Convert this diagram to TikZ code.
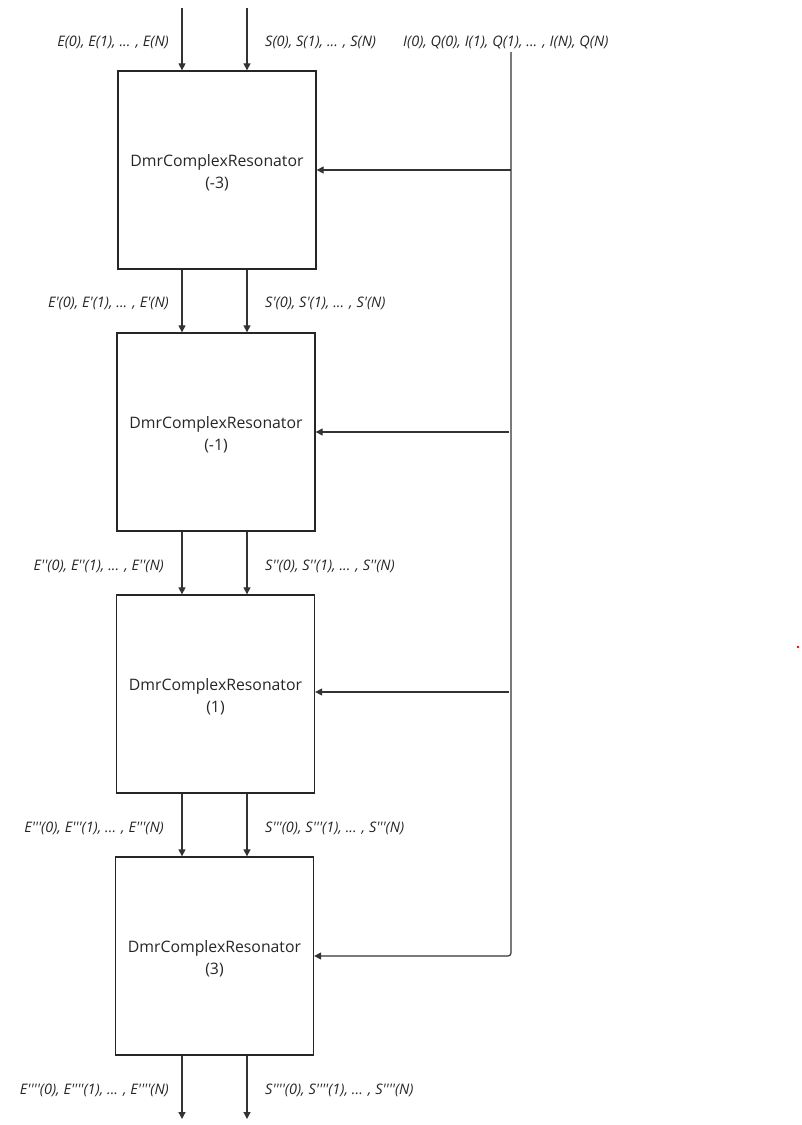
\documentclass[tikz,border=0pt]{standalone}
\usepackage{fontspec}
\setmainfont{Open Sans}
\newfontfamily\lblfont{Open Sans}
\usetikzlibrary{arrows.meta}
\begin{document}
\begin{tikzpicture}[x=1pt,y=-1pt,
  ln/.style={draw=black!80, line width=1.2pt},
  arr/.style={ln, -{Triangle[length=7pt,width=7pt]}},
  box/.style={draw=black!85, line width=1.3pt, minimum width=198pt, minimum height=198pt, inner sep=0pt, align=center, font=\fontsize{15.8}{22}\selectfont, text=black!85},
  boxtext/.style={box, draw=none, minimum width=0pt, minimum height=0pt},
  lbl/.style={font=\lblfont\fontsize{14.5}{16}\selectfont\itshape, text=black!85, inner sep=0pt}]
\useasboundingbox (0,0) rectangle (801,1125);
\node[box] (b1) at (217,170) {};
\node[box] (b2) at (216,432) {};
\node[box] (b3) at (215.5,694) {};
\node[box] (b4) at (214.5,956) {};
\node[boxtext] (t1) at ([yshift=-3pt]b1.center) {DmrComplexResonator\\(-3)};
\node[boxtext] (t2) at ([yshift=-3pt]b2.center) {DmrComplexResonator\\(-1)};
\node[boxtext] (t3) at ([yshift=-3pt]b3.center) {DmrComplexResonator\\(1)};
\node[boxtext] (t4) at ([yshift=-3pt]b4.center) {DmrComplexResonator\\(3)};
\coordinate (xL) at (182,0);
\coordinate (xR) at (247,0);
\coordinate (tL) at (182,8);
\coordinate (tR) at (247,8);
\coordinate (eL) at (182,1119);
\coordinate (eR) at (247,1119);
% top inputs
\draw[arr] (tL) -- (b1.north -| xL);
\draw[arr] (tR) -- (b1.north -| xR);
% between boxes
\draw[arr] (b1.south -| xL) -- (b2.north -| xL);
\draw[arr] (b1.south -| xR) -- (b2.north -| xR);
\draw[arr] (b2.south -| xL) -- (b3.north -| xL);
\draw[arr] (b2.south -| xR) -- (b3.north -| xR);
\draw[arr] (b3.south -| xL) -- (b4.north -| xL);
\draw[arr] (b3.south -| xR) -- (b4.north -| xR);
% outputs
\draw[arr] (b4.south -| xL) -- (eL);
\draw[arr] (b4.south -| xR) -- (eR);
% IQ bus
\coordinate (iq) at (511,52);
\coordinate (j1) at (511,170);
\coordinate (j2) at (509,432);
\coordinate (j3) at (509,692);
\draw[arr, rounded corners=3pt] (iq) -- (iq |- b4) -- (b4.east);
\draw[arr] (j1) -- (b1.east |- j1);
\draw[arr] (j2) -- (b2.east |- j2);
\draw[arr] (j3) -- (b3.east |- j3);
% labels
\node[lbl, anchor=east] (l1) at (169,42) {E(0), E(1), ... , E(N)};
\node[lbl, anchor=west] (r1) at (265,42) {S(0), S(1), ... , S(N)};
\node[lbl, anchor=west] (iql) at (403,42) {I(0), Q(0), I(1), Q(1), ... , I(N), Q(N)};
\node[lbl, anchor=east] (l2) at (169,303) {E'(0), E'(1), ... , E'(N)};
\node[lbl, anchor=west] (r2) at (265,303) {S'(0), S'(1), ... , S'(N)};
\node[lbl, anchor=east] (l3) at (164,566) {E''(0), E''(1), ... , E''(N)};
\node[lbl, anchor=west] (r3) at (265,566) {S''(0), S''(1), ... , S''(N)};
\node[lbl, anchor=east] (l4) at (164,828) {E'''(0), E'''(1), ... , E'''(N)};
\node[lbl, anchor=west] (r4) at (265,828) {S'''(0), S'''(1), ... , S'''(N)};
\node[lbl, anchor=east] (l5) at (169,1090) {E''''(0), E''''(1), ... , E''''(N)};
\node[lbl, anchor=west] (r5) at (265,1090) {S''''(0), S''''(1), ... , S''''(N)};
\fill[red!90!black] (798,647) circle (1.3pt);
\end{tikzpicture}
\end{document}
